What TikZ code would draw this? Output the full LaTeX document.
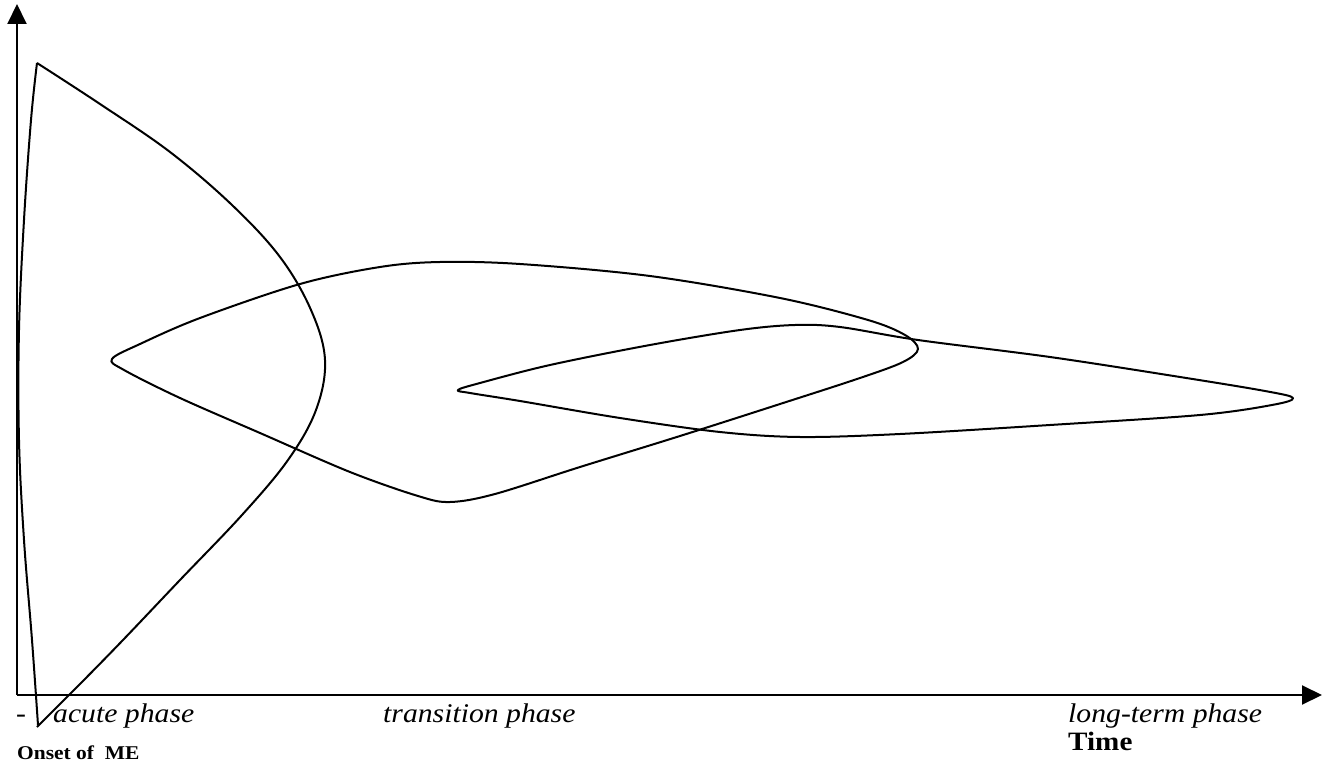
\documentclass[tikz,border=0pt]{standalone}
\usepackage{fontspec}
\setmainfont{Liberation Serif}
\usetikzlibrary{arrows.meta}
\tikzset{
  curve/.style={line width=2pt, line join=round},
  axis/.style={line width=2pt, -{Triangle[length=20pt,width=19pt]}},
  phase/.style={anchor=base west, inner sep=0pt, font=\fontsize{27}{32}\selectfont\itshape},
  boldlbl/.style={anchor=base west, inner sep=0pt, font=\fontsize{#1}{#1}\selectfont\bfseries},
}
\newcommand{\hs}[1]{\scalebox{1.1}[1]{#1}}
\begin{document}
\begin{tikzpicture}[x=1pt,y=-1pt]
\useasboundingbox (0,0) rectangle (1326,762);
\coordinate (o) at (17,695);
\coordinate (ytip) at (17,4);
\coordinate (xtip) at (1322,695);
\draw[axis] (o) -- (ytip);
\draw[axis] (o) -- (xtip);
% acute phase curve
\draw[curve] plot[smooth, tension=0.6] coordinates {(38,725) (32,640) (24,540) (19,440) (19,330) (24,220) (31,120) (37,63)};
\draw[curve] plot[smooth, tension=0.6] coordinates {(37,63) (100,104) (170,152) (232,205) (280,257) (311,310) (325,360) (316,410) (288,460) (242,515) (180,580) (123,640) (80,684) (37,727)};
% transition loop
\draw[curve] plot[smooth cycle, tension=0.55] coordinates {(112,359) (140,344) (200,318) (300,284) (380,267) (440,262) (520,264) (650,276) (780,298) (868,320) (905,335) (918,349) (903,362) (860,378) (780,404) (680,436) (580,467) (495,494) (450,502) (418,496) (350,472) (260,433) (180,398) (124,370)};
% long-term loop
\draw[curve] plot[smooth cycle, tension=0.55] coordinates {(458,390) (480,383) (550,365) (650,345) (740,330) (795,325) (840,327) (918,340) (1050,357) (1180,377) (1265,391) (1293,398) (1272,405) (1200,415) (1050,425) (900,434) (800,437) (720,432) (620,418) (520,401) (470,393)};
% labels
\node[phase, font=\fontsize{27}{32}\selectfont] (dash) at (16,722) {\hs{-}};
\node[phase] (acute) at (53,722) {\hs{acute phase}};
\node[phase] (trans) at (383,722) {\hs{transition phase}};
\node[phase] (long) at (1068,722) {\hs{long-term phase}};
\node[boldlbl=19.5] (onset) at (17,759) {\hs{Onset of~~ME}};
\node[boldlbl=26.5] (time) at (1068,750) {\hs{Time}};
\end{tikzpicture}
\end{document}
